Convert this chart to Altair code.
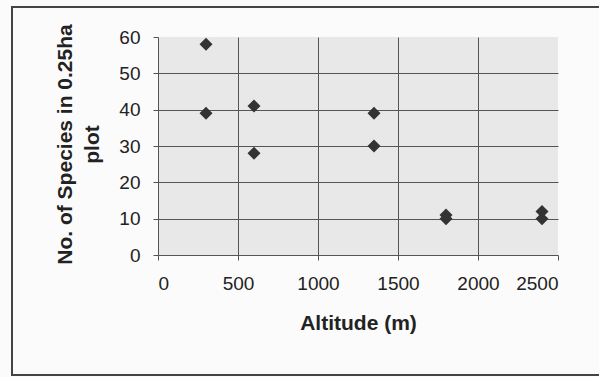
import altair as alt
import pandas as pd

altitude = [300, 300, 600, 600, 1350, 1350, 1800, 1800, 2400, 2400]
species = [58, 39, 41, 28, 39, 30, 11, 10, 12, 10]

df = pd.DataFrame({"Altitude": altitude, "Species": species})

FONT = "Liberation Sans"
W, H = 400, 218

points = alt.Chart(df).mark_point(
    shape="diamond", filled=True, color="#333333", size=170, opacity=1
).encode(
    x=alt.X("Altitude:Q",
            scale=alt.Scale(domain=[0, 2500], nice=False, zero=True),
            axis=alt.Axis(
                values=[0, 500, 1000, 1500, 2000, 2500], format="d",
                title="Altitude (m)",
                titleFont=FONT, titleFontSize=21, titleFontWeight="bold",
                titleColor="#222222",
                titleBaseline="alphabetic", titleY=74, titleX=W / 2,
                labelFont=FONT, labelFontSize=19, labelColor="#222222",
                labelPadding=14, tickSize=5, tickColor="#555555",
                domain=False, grid=True, gridColor="#555555", gridWidth=1,
                gridOpacity={"condition": {"test": "datum.value >= 2500", "value": 0}, "value": 1},
            )),
    y=alt.Y("Species:Q",
            scale=alt.Scale(domain=[0, 60], nice=False),
            axis=alt.Axis(
                values=[0, 10, 20, 30, 40, 50, 60], format="d",
                title=["No. of Species in 0.25ha", "plot"],
                titleFont=FONT, titleFontSize=21, titleFontWeight="bold",
                titleColor="#222222",
                titleAngle=270, titleAlign="center", titleBaseline="top",
                titleX=-104, titleY=107, titleLineHeight=27,
                labelFont=FONT, labelFontSize=19, labelColor="#222222",
                labelPadding=13, tickSize=5, tickColor="#555555",
                domain=False, grid=True, gridColor="#555555", gridWidth=1,
                gridOpacity={"condition": {"test": "datum.value >= 60", "value": 0}, "value": 1},
            )),
)

frame = alt.Chart(pd.DataFrame({"k": [0]})).mark_rect(
    fill=None, stroke="#444444", strokeWidth=2
).encode(
    x=alt.value(-146), x2=alt.value(470),
    y=alt.value(-30), y2=alt.value(338),
)

chart = alt.layer(frame, points).properties(
    width=W, height=H,
    padding={"left": 158, "top": 37, "right": 41, "bottom": 122},
    autosize=alt.AutoSizeParams(type="none"),
    background="#fbfbfb",
).configure_view(fill="#e8e8e8", stroke=None)

chart.save("out.html", embed_options={"renderer": "svg", "actions": False})
